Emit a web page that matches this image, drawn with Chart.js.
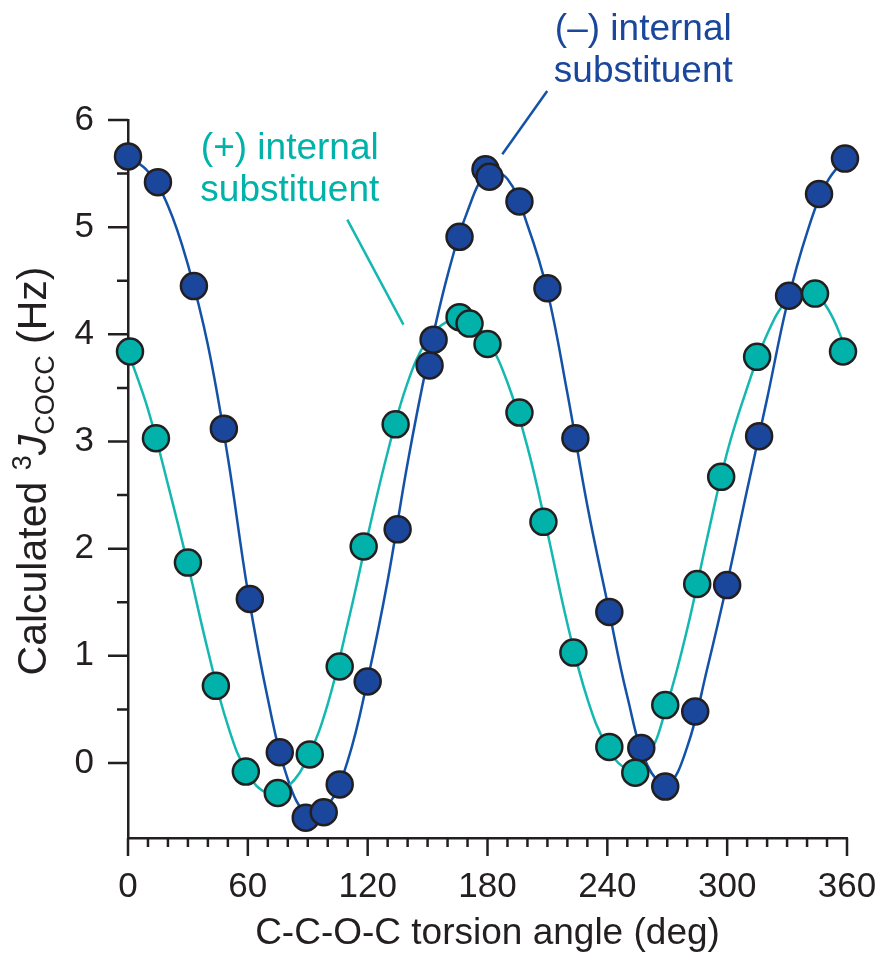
<!DOCTYPE html>
<html>
<head>
<meta charset="utf-8">
<script src="https://cdn.jsdelivr.net/npm/chart.js@4.4.0/dist/chart.umd.min.js"></script>
<style>
    html, body { margin: 0; padding: 0; background: #fff; }
    #wrap { width: 879px; height: 958px; }
</style>
</head>
<body>
<div id="wrap"><canvas id="jChart" width="879" height="958"></canvas></div>
<script>
// computed points, (-) internal substituent
const minusAngles = [0, 15, 33, 48, 61, 76, 89, 98, 106, 120, 135, 151, 153, 166, 179, 181, 196, 210, 224, 241, 257, 269, 284, 300, 316, 331, 346, 359];
const minusJ = [5.66, 5.42, 4.45, 3.12, 1.53, 0.10, -0.51, -0.46, -0.20, 0.76, 2.18, 3.71, 3.95, 4.91, 5.54, 5.47, 5.24, 4.43, 3.03, 1.41, 0.14, -0.22, 0.48, 1.66, 3.05, 4.36, 5.31, 5.64];

// computed points, (+) internal substituent
const plusAngles = [1, 14, 30, 44, 59, 75, 91, 106, 118, 134, 166, 171, 180, 196, 208, 223, 241, 254, 269, 285, 297, 315, 344, 358];
const plusJ = [3.84, 3.03, 1.87, 0.72, -0.08, -0.28, 0.08, 0.90, 2.02, 3.16, 4.16, 4.10, 3.91, 3.27, 2.25, 1.03, 0.15, -0.09, 0.54, 1.67, 2.67, 3.79, 4.38, 3.84];

// fitted curves, read every 10 deg
const curveAngles = [0, 10, 20, 30, 40, 50, 60, 70, 80, 90, 100, 110, 120, 130, 140, 150, 160, 170, 180, 190, 200, 210, 220, 230, 240, 250, 260, 270, 280, 290, 300, 310, 320, 330, 340, 350, 360];
const minusCurve = [5.66, 5.52, 5.2, 4.65, 3.9, 2.85, 1.6, 0.6, -0.15, -0.48, -0.4, 0.02, 0.78, 1.7, 2.8, 3.75, 4.55, 5.15, 5.5, 5.45, 5.02, 4.4, 3.45, 2.4, 1.5, 0.62, -0.02, -0.2, 0.15, 0.88, 1.68, 2.55, 3.4, 4.28, 4.95, 5.42, 5.66];
const plusCurve = [3.84, 3.3, 2.6, 1.85, 1.05, 0.35, -0.1, -0.28, -0.22, 0.05, 0.55, 1.3, 2.12, 2.9, 3.55, 3.95, 4.12, 4.15, 3.95, 3.55, 2.95, 2.15, 1.3, 0.6, 0.15, -0.05, 0.05, 0.55, 1.25, 2.1, 2.9, 3.5, 4.0, 4.32, 4.42, 4.25, 3.84];

const xMajorStep = 60;

const FONT = '"Liberation Sans", Arial, Helvetica, sans-serif';
const INK = '#231f20';
const BLUE = '#1a479c';
const BLUE_LINE = '#1452a8';
const TEAL = '#00b2a9';
const TEAL_LINE = '#14b8b0';

function toPoints(xs, ys) {
    return xs.map((x, i) => ({ x: x, y: ys[i] }));
}

function isWhole(v) {
    return Math.abs(v - Math.round(v)) < 1e-6;
}

// labels and leader lines, in data units
const labels = [
    { lines: ['(\u2013) internal', 'substituent'], x: 258, y: [6.84, 6.45], color: BLUE,
      leader: [[209.9, 6.27], [187.4, 5.68]], leaderColor: BLUE_LINE },
    { lines: ['(+) internal', 'substituent'], x: 81, y: [5.73, 5.34], color: TEAL,
      leader: [[109.8, 5.07], [137.9, 4.09]], leaderColor: TEAL_LINE }
];

const decorations = {
    id: 'decorations',
    afterDraw(chart) {
        const { ctx, chartArea, scales } = chart;
        const xs = scales.x;
        const ys = scales.y;

        ctx.save();
        ctx.strokeStyle = INK;
        ctx.lineWidth = 2.5;
        ctx.beginPath();
        xs.ticks.forEach(t => {
            const px = xs.getPixelForValue(t.value);
            const len = t.value % xMajorStep === 0 ? 18 : 9;
            ctx.moveTo(px, chartArea.bottom);
            ctx.lineTo(px, chartArea.bottom + len);
        });
        ys.ticks.forEach(t => {
            const py = ys.getPixelForValue(t.value);
            const len = isWhole(t.value) ? 20 : 11;
            ctx.moveTo(chartArea.left, py);
            ctx.lineTo(chartArea.left - len, py);
        });
        ctx.stroke();

        // y title with superscript / subscript
        const parts = [
            { t: 'Calculated ', f: `41px ${FONT}`, dy: 0 },
            { t: '3', f: `27px ${FONT}`, dy: -15 },
            { t: 'J', f: `italic 41px ${FONT}`, dy: 0 },
            { t: 'COCC', f: `27px ${FONT}`, dy: 8 },
            { t: ' (Hz)', f: `41px ${FONT}`, dy: 0 }
        ];
        let total = 0;
        parts.forEach(p => { ctx.font = p.f; p.w = ctx.measureText(p.t).width; total += p.w; });
        ctx.translate(32, 471);
        ctx.rotate(-Math.PI / 2);
        ctx.fillStyle = INK;
        ctx.textBaseline = 'alphabetic';
        ctx.textAlign = 'left';
        let cx = -total / 2;
        parts.forEach(p => {
            ctx.font = p.f;
            ctx.fillText(p.t, cx, 14 + p.dy);
            cx += p.w;
        });
        ctx.setTransform(1, 0, 0, 1, 0, 0);

        // curve labels
        labels.forEach(lb => {
            ctx.fillStyle = lb.color;
            ctx.font = `37px ${FONT}`;
            ctx.textAlign = 'center';
            ctx.textBaseline = 'middle';
            lb.lines.forEach((s, i) => {
                ctx.fillText(s, xs.getPixelForValue(lb.x), ys.getPixelForValue(lb.y[i]));
            });
            ctx.strokeStyle = lb.leaderColor;
            ctx.lineWidth = 2.5;
            ctx.beginPath();
            ctx.moveTo(xs.getPixelForValue(lb.leader[0][0]), ys.getPixelForValue(lb.leader[0][1]));
            ctx.lineTo(xs.getPixelForValue(lb.leader[1][0]), ys.getPixelForValue(lb.leader[1][1]));
            ctx.stroke();
        });
        ctx.restore();
    }
};

const ctx = document.getElementById('jChart').getContext('2d');
new Chart(ctx, {
    type: 'scatter',
    data: {
        datasets: [
            {
                label: '(+) points',
                data: toPoints(plusAngles, plusJ),
                backgroundColor: TEAL,
                borderColor: INK,
                borderWidth: 2.5,
                pointRadius: 13,
                clip: false,
                order: 0
            },
            {
                label: '(-) points',
                data: toPoints(minusAngles, minusJ),
                backgroundColor: BLUE,
                borderColor: INK,
                borderWidth: 2.5,
                pointRadius: 13,
                clip: false,
                order: 1
            },
            {
                label: '(+) fit',
                type: 'line',
                data: toPoints(curveAngles, plusCurve),
                borderColor: TEAL_LINE,
                borderWidth: 2.5,
                pointRadius: 0,
                tension: 0.4,
                fill: false,
                order: 2
            },
            {
                label: '(-) fit',
                type: 'line',
                data: toPoints(curveAngles, minusCurve),
                borderColor: BLUE_LINE,
                borderWidth: 2.5,
                pointRadius: 0,
                tension: 0.4,
                fill: false,
                order: 3
            }
        ]
    },
    options: {
        responsive: false,
        animation: false,
        devicePixelRatio: 1,
        layout: { padding: { top: 120, right: 32, left: 0, bottom: 0 } },
        plugins: {
            legend: { display: false },
            tooltip: { enabled: false }
        },
        scales: {
            x: {
                type: 'linear',
                min: 0,
                max: 360,
                afterFit: s => { s.height = 120; s.paddingRight = 0; s.paddingLeft = 0; },
                grid: { display: false, drawTicks: true, tickLength: 18 },
                border: { display: true, color: INK, width: 2.5 },
                ticks: {
                    stepSize: 10,
                    autoSkip: false,
                    maxRotation: 0,
                    padding: 10,
                    color: INK,
                    font: { family: FONT, size: 35 },
                    callback: v => (v % xMajorStep === 0 ? v : '')
                },
                title: {
                    display: true,
                    text: 'C-C-O-C torsion angle (deg)',
                    color: INK,
                    font: { family: FONT, size: 37 },
                    padding: { top: 0, bottom: 2 }
                }
            },
            y: {
                type: 'linear',
                min: -0.7,
                max: 6,
                afterFit: s => { s.width = 128; },
                afterBuildTicks: s => { s.ticks = s.ticks.filter(t => isWhole(t.value * 2)); },
                grid: { display: false, drawTicks: true, tickLength: 20 },
                border: { display: true, color: INK, width: 2.5 },
                ticks: {
                    stepSize: 0.5,
                    padding: 14,
                    color: INK,
                    font: { family: FONT, size: 35 },
                    callback: v => (isWhole(v) ? v : '')
                }
            }
        }
    },
    plugins: [decorations]
});
</script>
</body>
</html>
